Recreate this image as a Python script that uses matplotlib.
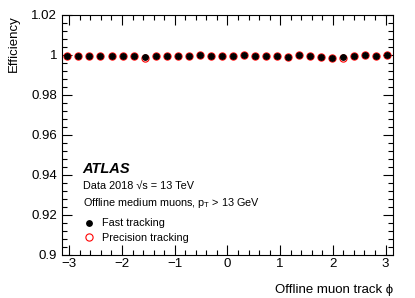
import numpy as np
import matplotlib
matplotlib.use("Agg")
import matplotlib.pyplot as plt
from matplotlib.ticker import MultipleLocator, AutoMinorLocator

plt.rcParams["font.family"] = ["Liberation Sans", "DejaVu Sans"]
plt.rcParams["mathtext.fontset"] = "custom"
plt.rcParams["mathtext.rm"] = "Liberation Sans"
plt.rcParams["mathtext.it"] = "Liberation Sans:italic"

# DATA: 30 phi bins, efficiency per bin
n_bins = 30
phi_edges = np.linspace(-np.pi, np.pi, n_bins + 1)
phi_centers = 0.5 * (phi_edges[:-1] + phi_edges[1:])

eff_fast = [0.9994, 0.9996, 0.9994, 0.9996, 0.9994, 0.9996, 0.9997, 0.9988,
            0.9996, 0.9996, 0.9997, 0.9996, 0.9999, 0.9997, 0.9997, 0.9994,
            0.9999, 0.9997, 0.9996, 0.9994, 0.9991, 0.9999, 0.9997, 0.9992,
            0.9986, 0.9988, 0.9996, 0.9999, 0.9996, 0.9999]
eff_precision = [0.9993, 0.9995, 0.9993, 0.9995, 0.9993, 0.9995, 0.9996, 0.9987,
                 0.9995, 0.9995, 0.9996, 0.9995, 0.9998, 0.9996, 0.9995, 0.9993,
                 0.9998, 0.9996, 0.9993, 0.9993, 0.9990, 0.9998, 0.9996, 0.9991,
                 0.9985, 0.9987, 0.9995, 0.9998, 0.9995, 0.9998]

fig = plt.figure(figsize=(4.15, 2.98), dpi=100)
ax = fig.add_axes([0.149, 0.1443, 0.798, 0.8054])

h_prec, = ax.plot(phi_centers, eff_precision, "o", ms=5.2, mfc="none", mec="#ff0000",
                  mew=0.8, label="Precision tracking", zorder=3)
h_fast, = ax.plot(phi_centers, eff_fast, "o", ms=3.9, color="black",
                  label="Fast tracking", zorder=4)

ax.set_xlim(-np.pi, np.pi)
ax.set_ylim(0.9, 1.02)
ax.xaxis.set_minor_locator(MultipleLocator(0.2))
ax.yaxis.set_minor_locator(MultipleLocator(0.004))
ax.set_yticks([0.9, 0.92, 0.94, 0.96, 0.98, 1.0, 1.02])
ax.set_yticklabels(["0.9", "0.92", "0.94", "0.96", "0.98", "1", "1.02"])
ax.set_xticks([-3, -2, -1, 0, 1, 2, 3])
ax.set_xticklabels(["\u22123", "\u22122", "\u22121", "0", "1", "2", "3"])

ax.tick_params(which="both", direction="in", top=True, right=True, labelsize=9.5, width=0.8)
ax.tick_params(which="major", length=7)
ax.tick_params(which="minor", length=3.5)
ax.tick_params(axis="x", pad=2)
for s in ax.spines.values():
    s.set_linewidth(0.8)

ax.set_xlabel("Offline muon track \u03d5", fontsize=9.5, loc="right", labelpad=10)
ax.set_ylabel("Efficiency", fontsize=9.5, loc="top", labelpad=8)

ax.text(0.063, 0.34, "ATLAS", transform=ax.transAxes, fontsize=10.5,
        fontweight="bold", fontstyle="italic")
ax.text(0.063, 0.275, "Data 2018 \u221as = 13 TeV", transform=ax.transAxes, fontsize=7.8)
ax.text(0.063, 0.205, r"Offline medium muons, p$_\mathrm{T}$ > 13 GeV",
        transform=ax.transAxes, fontsize=7.8)

ax.legend(handles=[h_fast, h_prec], loc="lower left", bbox_to_anchor=(0.055, 0.04),
          frameon=False, fontsize=7.8, handletextpad=0.6, handlelength=1.2,
          labelspacing=0.45, borderpad=0.2, borderaxespad=0)

fig.savefig("out.png", dpi=100)
